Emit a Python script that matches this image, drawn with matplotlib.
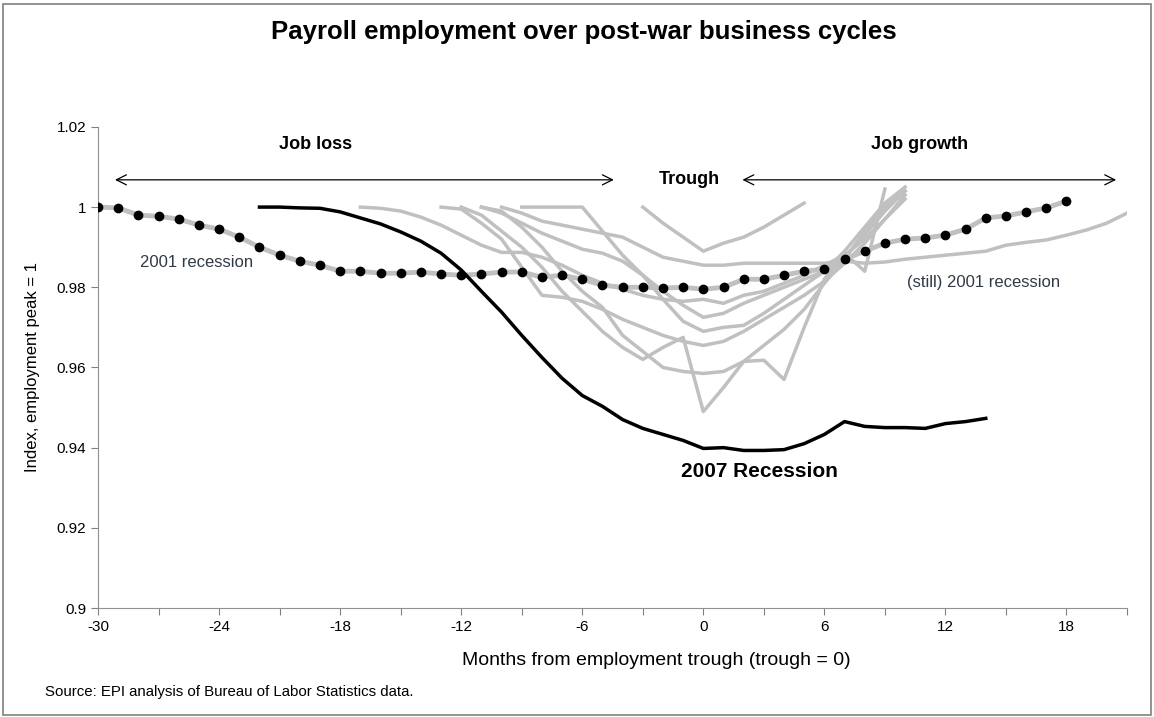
import numpy as np
import matplotlib.pyplot as plt
from matplotlib.patches import Rectangle

plt.rcParams['font.family'] = ['Liberation Sans', 'DejaVu Sans']

# 2001 recession (dotted line), months -30..18
months_2001 = list(range(-30, 19))
rec_2001 = [1.000, 0.9998, 0.998, 0.9977, 0.997, 0.9955, 0.9945, 0.9925, 0.990, 0.988,
            0.9865, 0.9855, 0.984, 0.984, 0.9835, 0.9835, 0.9838, 0.9833, 0.983, 0.9833,
            0.9838, 0.9838, 0.9825, 0.983, 0.982, 0.9805, 0.980, 0.980, 0.9798, 0.980,
            0.9795, 0.980, 0.982, 0.982, 0.983, 0.984, 0.9845, 0.987, 0.989, 0.991,
            0.992, 0.9923, 0.993, 0.9945, 0.9973, 0.9978, 0.9988, 0.9998, 1.0015]

# 2007 recession, months -22..14
months_2007 = list(range(-22, 15))
rec_2007 = [1.0, 1.0, 0.9998, 0.9997, 0.9988, 0.9973, 0.9958, 0.9938, 0.9915, 0.9885,
            0.9843, 0.979, 0.9738, 0.968, 0.9625, 0.9573, 0.953, 0.9503, 0.947, 0.9448,
            0.9433, 0.9418, 0.9398, 0.940, 0.9393, 0.9393, 0.9395, 0.941, 0.9433, 0.9465,
            0.9453, 0.945, 0.945, 0.9448, 0.946, 0.9465, 0.9473]

# other post-war cycles (gray), (first month, values)
other_cycles = [
    (-17, [1.0, 0.9997, 0.999, 0.9975, 0.9955, 0.993, 0.9905, 0.9887, 0.9887, 0.9875,
           0.9855, 0.983, 0.981, 0.9795, 0.978, 0.977, 0.9765, 0.977, 0.976, 0.978,
           0.979, 0.981, 0.983, 0.9855, 0.988, 0.992, 0.997, 1.002]),
    (-13, [1.0, 0.9995, 0.996, 0.992, 0.985, 0.978, 0.9775, 0.9765, 0.9745, 0.972,
           0.970, 0.968, 0.9665, 0.9655, 0.9665, 0.969, 0.972, 0.975, 0.978, 0.9815,
           0.986, 0.991, 0.997, 1.003]),
    (-12, [1.0, 0.998, 0.994, 0.990, 0.985, 0.979, 0.974, 0.969, 0.965, 0.962,
           0.965, 0.9675, 0.949, 0.955, 0.9615, 0.9618, 0.957, 0.970, 0.982, 0.9885,
           0.984, 1.0045]),
    (-11, [1.0, 0.9985, 0.996, 0.9935, 0.9915, 0.9895, 0.9885, 0.9865, 0.983, 0.979,
           0.9755, 0.9725, 0.9735, 0.976, 0.978, 0.980, 0.982, 0.984, 0.9875, 0.993,
           0.999, 1.004]),
    (-11, [1.0, 0.999, 0.995, 0.990, 0.984, 0.979, 0.975, 0.968, 0.964, 0.960,
           0.959, 0.9585, 0.959, 0.9615, 0.9655, 0.9695, 0.9745, 0.981, 0.987, 0.994,
           1.000, 1.004]),
    (-10, [1.0, 0.9985, 0.9965, 0.9955, 0.9945, 0.9935, 0.9925, 0.990, 0.9875, 0.9865,
           0.9855, 0.9855, 0.986, 0.986, 0.986, 0.986, 0.986, 0.9865, 0.986, 0.9863,
           0.987, 0.9875, 0.988, 0.9885, 0.989, 0.9905, 0.9912, 0.9918, 0.993, 0.9943,
           0.996, 0.9985, 1.0013]),
    (-9, [1.0, 1.0, 1.0, 1.0, 0.994, 0.988, 0.983, 0.977, 0.9715, 0.969,
          0.970, 0.9705, 0.9735, 0.977, 0.9805, 0.984, 0.989, 0.995, 1.001, 1.005]),
    (-3, [1.0, 0.996, 0.9925, 0.989, 0.991, 0.9925, 0.995, 0.998, 1.001]),
]

fig = plt.figure(figsize=(11.54, 7.17), dpi=100)
ax = fig.add_axes([0.085, 0.152, 0.8916, 0.671])

for start, vals in other_cycles:
    ax.plot(range(start, start + len(vals)), vals, color='#c0c0c0', lw=2.5, zorder=2)

ax.plot(months_2001, rec_2001, color='#c0c0c0', lw=3.5, zorder=3)
ax.plot(months_2001, rec_2001, ls='none', marker='o', ms=6, color='black', zorder=4)
ax.plot(months_2007, rec_2007, color='black', lw=2.5, zorder=5)

ax.set_xlim(-30, 21)
ax.set_ylim(0.9, 1.02)
ax.set_xticks(range(-30, 22, 3))
ax.set_xticklabels([str(m) if m % 6 == 0 else '' for m in range(-30, 22, 3)])
ax.set_yticks(np.arange(0.9, 1.021, 0.02))
ax.set_yticklabels(['0.9', '0.92', '0.94', '0.96', '0.98', '1', '1.02'])
ax.tick_params(colors='#808080', labelcolor='black', labelsize=11, length=5)
for s in ['top', 'right']:
    ax.spines[s].set_visible(False)
for s in ['left', 'bottom']:
    ax.spines[s].set_color('#909090')

ax.set_xlabel('Months from employment trough (trough = 0)', fontsize=14)
ax.xaxis.set_label_coords(0.543, -0.092)
ax.set_ylabel('Index, employment peak = 1', fontsize=12, labelpad=12)

# annotations
arrow = dict(arrowstyle='<->', color='black', lw=0.9, mutation_scale=18)
ax.annotate('', xy=(-4.3, 1.0068), xytext=(-29.3, 1.0068), arrowprops=arrow)
ax.annotate('', xy=(20.6, 1.0068), xytext=(1.8, 1.0068), arrowprops=arrow)
ax.text(-19.2, 1.0155, 'Job loss', fontsize=13, fontweight='bold', ha='center', va='center')
ax.text(-0.7, 1.0068, 'Trough', fontsize=13, fontweight='bold', ha='center', va='center')
ax.text(10.7, 1.0155, 'Job growth', fontsize=13, fontweight='bold', ha='center', va='center')
ax.text(-25.1, 0.9862, '2001 recession', fontsize=12, color='#303a45', ha='center', va='center')
ax.text(13.9, 0.9813, '(still) 2001 recession', fontsize=12, color='#303a45', ha='center', va='center')
ax.text(2.8, 0.9340, '2007 Recession', fontsize=15, fontweight='bold', ha='center', va='center')

fig.text(0.506, 0.955, 'Payroll employment over post-war business cycles', fontsize=18.5,
         fontweight='bold', ha='center', va='center')
fig.text(0.039, 0.035, 'Source: EPI analysis of Bureau of Labor Statistics data.', fontsize=10.8,
         ha='left', va='center')
fig.patches.append(Rectangle((0.003, 0.003), 0.994, 0.992, transform=fig.transFigure,
                             fill=False, edgecolor='#808080', lw=1.2))

fig.savefig('out.png', dpi=100)
